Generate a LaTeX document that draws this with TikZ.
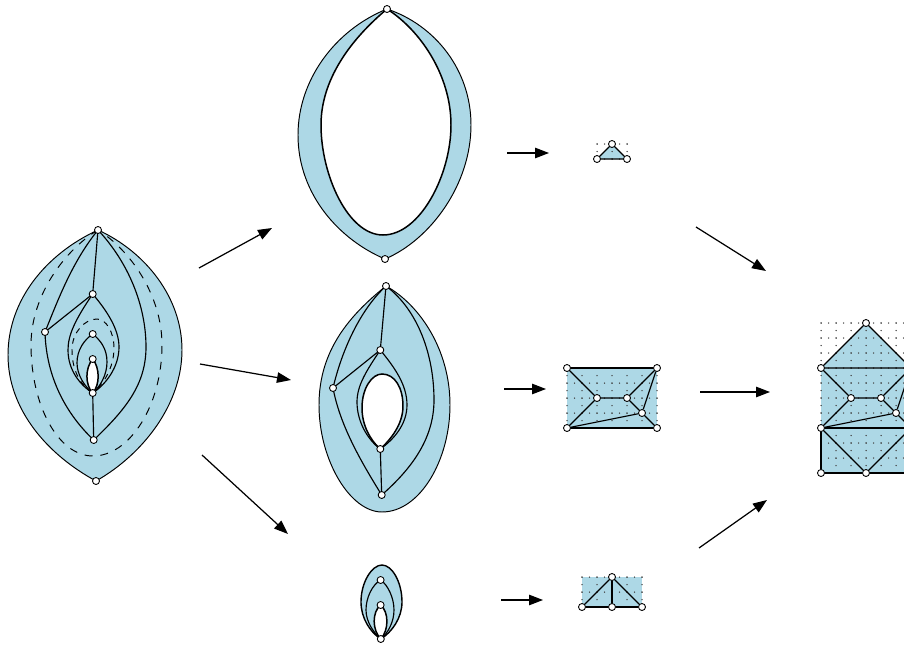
\documentclass[tikz,border=0pt]{standalone}
\usepackage{xcolor}
\usetikzlibrary{arrows.meta}
\definecolor{regionblue}{HTML}{ADD8E6}
\tikzset{
  vertex/.style={circle, draw=black, fill=white, line width=0.5pt, inner sep=0pt, minimum size=7*0.02cm},
  edge/.style={black, line width=0.65pt},
  region/.style={fill=regionblue, draw=black, line width=0.55pt},
  hole/.style={fill=white, draw=black, line width=0.85pt},
  gap/.style={black, line width=0.55pt, dash pattern=on 4.5pt off 4.5pt},
  flow/.style={-{Triangle[length=14*0.02cm, width=10.5*0.02cm]}, black, line width=0.7pt}
}
\newcommand{\gridfig}[4]{% x0, y0, cols, rows
  \foreach \gi in {0,...,#3}
    \foreach \gj in {0,...,\numexpr 2*#4\relax}
      \fill[black!75] ({#1+15*\gi},{#2+7.5*\gj}) circle (0.75);
  \foreach \gi in {0,...,\numexpr 2*#3\relax}
    \foreach \gj in {0,...,#4}
      \fill[black!75] ({#1+7.5*\gi},{#2+15*\gj}) circle (0.75);
}
\begin{document}
\begin{tikzpicture}[x=0.02cm, y=-0.02cm]
  \useasboundingbox (0,0) rectangle (904,646);
  \clip (0,0) rectangle (904,646);

  % left figure
  \coordinate (lt) at (98,230);
  \coordinate (lb) at (96,481);
  \filldraw[region] (lt) .. controls (46,254) and (8,300) .. (8,355)
    .. controls (8,410) and (48,455) .. (lb)
    .. controls (142,455) and (182,405) .. (182,350)
    .. controls (182,298) and (146,252) .. (lt);
  \draw[gap] (lt) .. controls (65,250) and (31,295) .. (31,345)
    .. controls (31,405) and (58,456) .. (93,456)
    .. controls (130,456) and (162,405) .. (162,345)
    .. controls (162,295) and (130,250) .. (lt);
  \coordinate (la) at (98,230);
  \coordinate (lB) at (92.7,294);
  \coordinate (lc) at (45,332);
  \coordinate (ld) at (92.7,334);
  \coordinate (le) at (92.7,359);
  \coordinate (lf) at (92.7,393);
  \coordinate (lg) at (93.7,440);
  \draw[edge] (la) -- (lB) -- (lc);
  \draw[edge] (lf) -- (lg);
  \draw[edge] (la) .. controls (72,262) and (58,300) .. (lc);
  \draw[edge] (lc) .. controls (46,372) and (62,410) .. (lg);
  \draw[edge] (la) .. controls (128,262) and (146,305) .. (146,347)
    .. controls (146,385) and (125,410) .. (lg);
  \draw[edge] (lB) .. controls (75,320) and (68,335) .. (68,350)
    .. controls (68,370) and (80,385) .. (lf);
  \draw[edge] (lB) .. controls (108,312) and (119,330) .. (119,347)
    .. controls (119,368) and (105,385) .. (lf);
  \draw[edge] (ld) .. controls (84,340) and (77,350) .. (77,363)
    .. controls (77,375) and (85,387) .. (lf);
  \draw[edge] (ld) .. controls (100,340) and (107,348) .. (107,362)
    .. controls (107,375) and (100,387) .. (lf);
  \draw[gap, dash pattern=on 3.2pt off 3.2pt] (lf) .. controls (80,385) and (72,370) .. (72,350)
    .. controls (72,332) and (85,319) .. (97,319)
    .. controls (106,319) and (114,332) .. (114,348)
    .. controls (114,368) and (103,385) .. (lf);
  \filldraw[hole] (le) .. controls (85,368) and (85,385) .. (lf)
    .. controls (100,385) and (100,368) .. (le);
  \foreach \v in {lt, lb, lB, lc, ld, le, lf, lg}
    \node[vertex] (n\v) at (\v) {};

  % top figure
  \coordinate (ta) at (387,9);
  \coordinate (tb) at (385,259);
  \filldraw[region] (ta) .. controls (335,30) and (298,80) .. (298,135)
    .. controls (298,195) and (340,240) .. (tb)
    .. controls (430,240) and (471,185) .. (471,125)
    .. controls (471,70) and (435,25) .. (ta);
  \filldraw[hole] (ta) .. controls (350,40) and (321,80) .. (321,125)
    .. controls (321,175) and (348,235) .. (383,235)
    .. controls (420,235) and (451,175) .. (451,125)
    .. controls (451,75) and (420,30) .. (ta);
  \foreach \v in {ta, tb}
    \node[vertex] (n\v) at (\v) {};

  % middle figure
  \coordinate (ma) at (386,286);
  \coordinate (mb) at (380.3,350);
  \coordinate (mc) at (333,388);
  \coordinate (mf) at (380.3,449);
  \coordinate (mg) at (381.7,495);
  \filldraw[region] (ma) .. controls (350,315) and (319,350) .. (319,405)
    .. controls (319,460) and (350,512) .. (382,512)
    .. controls (420,512) and (450,460) .. (450,405)
    .. controls (450,350) and (420,305) .. (ma);
  \draw[edge] (ma) -- (mb) -- (mc);
  \draw[edge] (mf) -- (mg);
  \draw[edge] (ma) .. controls (360,310) and (342,350) .. (mc);
  \draw[edge] (mc) .. controls (340,425) and (360,460) .. (mg);
  \draw[edge] (ma) .. controls (418,310) and (434,355) .. (434,400)
    .. controls (434,440) and (410,470) .. (mg);
  \draw[edge] (mb) .. controls (367,370) and (357,385) .. (357,402)
    .. controls (357,422) and (368,440) .. (mf);
  \draw[edge] (mb) .. controls (395,368) and (407,385) .. (407,405)
    .. controls (407,425) and (393,440) .. (mf);
  \filldraw[hole] (mf) .. controls (370,440) and (362,425) .. (362,408)
    .. controls (362,388) and (372,374) .. (382,374)
    .. controls (395,374) and (403,388) .. (403,406)
    .. controls (403,425) and (390,440) .. (mf);
  \foreach \v in {ma, mb, mc, mf, mg}
    \node[vertex] (n\v) at (\v) {};

  % bottom figure
  \coordinate (ba) at (380.6,580);
  \coordinate (bb) at (380.6,605);
  \coordinate (bc) at (380.8,639);
  \filldraw[region, line width=0.8pt] (bc) .. controls (370,632) and (361,618) .. (361,602)
    .. controls (361,582) and (372,565) .. (382,565)
    .. controls (392,565) and (402,582) .. (402,602)
    .. controls (402,618) and (392,632) .. (bc);
  \draw[edge] (ba) .. controls (372,585) and (366,598) .. (366,610)
    .. controls (366,622) and (374,633) .. (bc);
  \draw[edge] (ba) .. controls (388,585) and (394,598) .. (394,610)
    .. controls (394,622) and (388,633) .. (bc);
  \filldraw[hole] (bb) .. controls (372,612) and (372,630) .. (bc)
    .. controls (389,630) and (389,612) .. (bb);
  \foreach \v in {ba, bb, bc}
    \node[vertex] (n\v) at (\v) {};

  % small triangle
  \fill[regionblue] (612,144) -- (597,159) -- (627,159) -- cycle;
  \gridfig{597}{144}{2}{1}
  \node[vertex] (sa) at (612,144) {};
  \node[vertex] (sb) at (597,159) {};
  \node[vertex] (sc) at (627,159) {};
  \draw[edge] (sb) -- (sa) -- (sc) -- (sb);

  % hexagon rectangle
  \fill[regionblue] (567,368) rectangle (657,428);
  \gridfig{567}{368}{6}{4}
  \node[vertex] (ra) at (567,368) {};
  \node[vertex] (rb) at (657,368) {};
  \node[vertex] (rc) at (597,398) {};
  \node[vertex] (rd) at (627,398) {};
  \node[vertex] (re) at (642,413) {};
  \node[vertex] (rf) at (567,428) {};
  \node[vertex] (rg) at (657,428) {};
  \draw[edge] (ra) -- (rb);
  \draw[edge] (rf) -- (rg);
  \draw[edge] (ra) -- (rc) -- (rd) -- (rb);
  \draw[edge] (rc) -- (rf) -- (re) -- (rg);
  \draw[edge] (rd) -- (re) -- (rb);

  % low rectangle
  \fill[regionblue] (582,577) rectangle (642,607);
  \gridfig{582}{577}{4}{2}
  \node[vertex] (qa) at (612,577) {};
  \node[vertex] (qb) at (582,607) {};
  \node[vertex] (qc) at (612,607) {};
  \node[vertex] (qd) at (642,607) {};
  \draw[edge] (qb) -- (qa) -- (qd);
  \draw[edge] (qa) -- (qc);
  \draw[edge] (qb) -- (qc) -- (qd);

  % glued figure
  \fill[regionblue] (866,323) -- (821,368) -- (821,473) -- (926,473) -- (926,368) -- (911,368) -- cycle;
  \gridfig{821}{323}{6}{10}
  \node[vertex] (ga) at (866,323) {};
  \node[vertex] (gb) at (821,368) {};
  \node[vertex] (gc) at (851,398) {};
  \node[vertex] (gd) at (881,398) {};
  \node[vertex] (ge) at (896,413) {};
  \node[vertex] (gf) at (821,428) {};
  \node[vertex] (gg) at (821,473) {};
  \node[vertex] (gh) at (866,473) {};
  \coordinate (gi) at (911,368);
  \coordinate (gj) at (911,428);
  \coordinate (gk) at (911,473);
  \draw[edge] (gb) -- (ga) -- (gi) -- (gb);
  \draw[edge] (gb) -- (gc) -- (gd) -- (gi);
  \draw[edge] (gc) -- (gf) -- (ge) -- (gj);
  \draw[edge] (gd) -- (ge) -- (gi);
  \draw[edge] (gf) -- (gj);
  \draw[edge] (gf) -- (gh) -- (gj);
  \draw[edge] (gf) -- (gg) -- (gh) -- (gk);

  % arrows
  \coordinate (a1) at (199,268);  \coordinate (b1) at (272,228);
  \coordinate (a2) at (200,364);  \coordinate (b2) at (291,380);
  \coordinate (a3) at (202,455);  \coordinate (b3) at (288,534);
  \coordinate (a4) at (507,153);  \coordinate (b4) at (549,153);
  \coordinate (a5) at (504,389);  \coordinate (b5) at (546,389);
  \coordinate (a6) at (501,600);  \coordinate (b6) at (543,600);
  \coordinate (a7) at (696,227);  \coordinate (b7) at (766,271);
  \coordinate (a8) at (700,392);  \coordinate (b8) at (770,392);
  \coordinate (a9) at (699,548);  \coordinate (b9) at (767,500);
  \foreach \i in {1,...,9}
    \draw[flow] (a\i) -- (b\i);
\end{tikzpicture}
\end{document}
